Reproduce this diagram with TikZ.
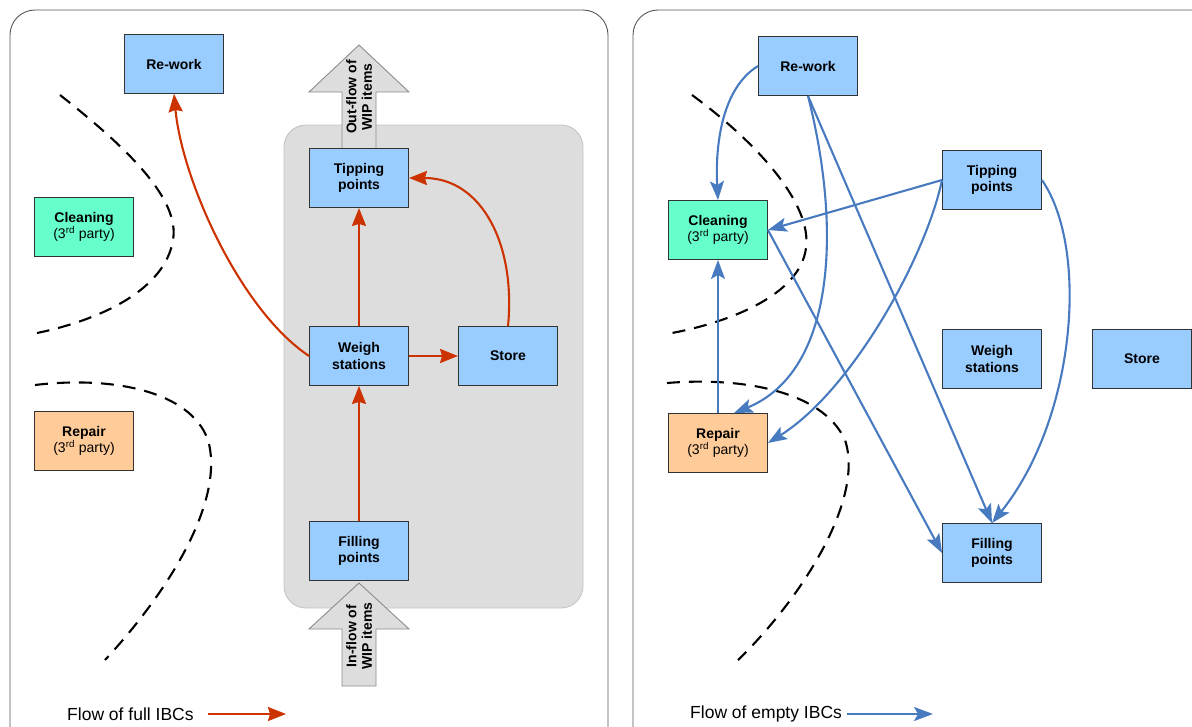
\documentclass[tikz,border=0pt]{standalone}
\usepackage{fontspec}
\setmainfont{Liberation Sans}
\usetikzlibrary{arrows.meta,calc}
\definecolor{redflow}{RGB}{204,51,0}
\definecolor{blueflow}{RGB}{72,122,192}
\definecolor{boxblue}{HTML}{99CCFF}
\definecolor{boxgreen}{HTML}{66FFCC}
\definecolor{boxorange}{HTML}{FFCC99}
\definecolor{regiongray}{HTML}{DDDDDD}
\definecolor{regionline}{HTML}{C4C4C4}
\definecolor{blockline}{HTML}{8C8C8C}
\definecolor{panelline}{HTML}{555555}
\begin{document}
\begin{tikzpicture}[x=1pt,y=-1pt,
  box/.style={draw=black!80, line width=0.9pt, minimum width=99pt, minimum height=59pt,
    inner sep=0pt, align=center, font=\fontsize{14}{16.5}\selectfont\bfseries},
  bluebox/.style={box, fill=boxblue},
  greenbox/.style={box, fill=boxgreen},
  orangebox/.style={box, fill=boxorange},
  panel/.style={draw=panelline, line width=0.9pt, rounded corners=25pt},
  region/.style={draw=regionline, fill=regiongray, line width=0.9pt, rounded corners=22pt},
  blockarrow/.style={draw=blockline, fill=regiongray, line width=0.9pt},
  blocktext/.style={rotate=90, align=center, font=\fontsize{14}{15.5}\selectfont\bfseries},
  boundary/.style={draw=black, line width=2.1pt, dash pattern=on 13pt off 9pt},
  fullflow/.style={draw=redflow, line width=2.1pt, -{Stealth[length=18pt,width=14pt,inset=2pt]}},
  emptyflow/.style={draw=blueflow, line width=2.1pt, -{Stealth[length=19pt,width=14pt,inset=4pt]}},
  legend/.style={font=\fontsize{17.5}{20}\selectfont, anchor=west, inner sep=0pt}
]
\useasboundingbox (0,0) rectangle (1192,726);
\clip (0,0) rectangle (1192,726);

% panels
\draw[panel] (10,10) rectangle (608,770);
\draw[panel] (633,10) rectangle (1230,770);

% ---------- left panel ----------
\draw[region] (284,125) rectangle (583,608);

\draw[blockarrow] (342,150) -- (342,92) -- (309,92) -- (359,45) -- (409,92) -- (376,92) -- (376,150) -- cycle;
\draw[blockarrow] (342,686) -- (342,629) -- (309,629) -- (359,583) -- (409,629) -- (376,629) -- (376,686) -- cycle;
\node[blocktext] (outtxt) at (359,97) {Out-flow of\\WIP items};
\node[blocktext] (intxt) at (359,636) {In-flow of\\WIP items};

\node[bluebox] (lrw) at (174,64) {Re-work};
\node[greenbox] (lcl) at (84,227) {Cleaning\\{\mdseries(3\textsuperscript{rd} party)}};
\node[orangebox] (lrp) at (84,441) {Repair\\{\mdseries(3\textsuperscript{rd} party)}};
\node[bluebox] (ltp) at (359,178) {Tipping\\points};
\node[bluebox] (lws) at (359,356) {Weigh\\stations};
\node[bluebox] (lst) at (508,356) {Store};
\node[bluebox] (lfp) at (359,551) {Filling\\points};

\draw[boundary] (60,95) .. controls (130,150) and (180,200) .. (173,240)
  .. controls (165,290) and (100,320) .. (37,333);
\draw[boundary] (35,385) .. controls (110,376) and (190,390) .. (208,440)
  .. controls (225,500) and (170,590) .. (105,660);

\draw[fullflow] (lfp.north) -- (lws.south);
\draw[fullflow] (lws.north) -- (ltp.south);
\draw[fullflow] (lws.east) -- (lst.west);
\draw[fullflow] (lst.north) .. controls (516,245) and (482,178) .. (ltp.east);
\draw[fullflow] (lws.west) .. controls (240,310) and (182,180) .. (lrw.south);

\coordinate (lga) at (208,714);
\coordinate (lgb) at (286,714);
\node[legend] (lgt) at (67,714) {Flow of full IBCs};
\draw[fullflow] (lga) -- (lgb);

% ---------- right panel ----------
\node[bluebox] (rrw) at (808,66) {Re-work};
\node[bluebox] (rtp) at (992,180) {Tipping\\points};
\node[greenbox] (rcl) at (718,230) {Cleaning\\{\mdseries(3\textsuperscript{rd} party)}};
\node[bluebox] (rws) at (992,359) {Weigh\\stations};
\node[bluebox] (rst) at (1142,359) {Store};
\node[orangebox] (rrp) at (718,443) {Repair\\{\mdseries(3\textsuperscript{rd} party)}};
\node[bluebox] (rfp) at (992,553) {Filling\\points};

\draw[boundary] (692,95) .. controls (760,145) and (812,205) .. (806,248)
  .. controls (800,295) and (730,322) .. (672,333);
\draw[boundary] (667,383) .. controls (740,377) and (822,390) .. (845,440)
  .. controls (865,500) and (800,600) .. (738,660);

\draw[emptyflow] (rrw.west) .. controls (722,88) and (715,145) .. (rcl.north);
\draw[emptyflow] (rrw.south) .. controls (842,230) and (835,372) .. (rrp.62);
\draw[emptyflow] (rrw.south) -- (rfp.north);
\draw[emptyflow] (rcl.east) -- (rfp.west);
\draw[emptyflow] (rtp.west) -- (rcl.east);
\draw[emptyflow] (rtp.west) .. controls (925,260) and (850,392) .. (rrp.east);
\draw[emptyflow] (rtp.east) .. controls (1090,250) and (1075,420) .. (rfp.north);
\draw[emptyflow] (rrp.north) -- (rcl.south);

\coordinate (rga) at (847,714);
\coordinate (rgb) at (933,714);
\node[legend] (rgt) at (690,714) {Flow of empty IBCs};
\draw[emptyflow] (rga) -- (rgb);
\end{tikzpicture}
\end{document}
